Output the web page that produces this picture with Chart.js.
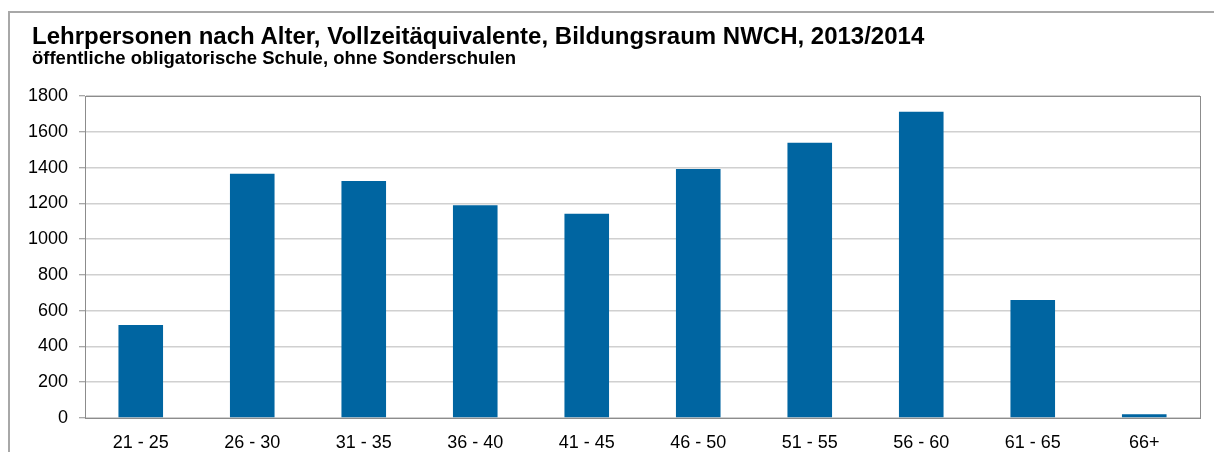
<!DOCTYPE html>
<html>
<head>
<meta charset="utf-8">
<script src="https://cdn.jsdelivr.net/npm/chart.js@4/dist/chart.umd.min.js"></script>
<style>
  html, body { margin: 0; padding: 0; width: 1214px; height: 452px; overflow: hidden; background: #fff; }
  #frame { position: absolute; left: 8px; top: 11px; width: 1300px; height: 500px; border: 2px solid #a8a8a8; box-sizing: border-box; }
  #wrap { position: absolute; left: 0; top: 0; width: 1214px; height: 452px; }
  .t { position: absolute; left: 32px; white-space: nowrap; font-family: 'Liberation Sans', Arial, Helvetica, sans-serif; font-weight: bold; color: #000; }
  #title { top: 24px; font-size: 24px; line-height: 24px; }
  #subtitle { top: 49px; font-size: 18.5px; line-height: 18.5px; }
</style>
</head>
<body>
<div id="frame"></div>
<div id="wrap"><canvas id="c" width="1214" height="452"></canvas></div>
<div class="t" id="title"></div>
<div class="t" id="subtitle"></div>
<script>
const titleText = 'Lehrpersonen nach Alter, Vollzeitäquivalente, Bildungsraum NWCH, 2013/2014';
const subtitleText = 'öffentliche obligatorische Schule, ohne Sonderschulen';
const categories = ['21 - 25', '26 - 30', '31 - 35', '36 - 40', '41 - 45', '46 - 50', '51 - 55', '56 - 60', '61 - 65', '66+'];
const teachers = [520, 1366, 1325, 1189, 1142, 1392, 1539, 1712, 660, 21];
const yMin = 0, yMax = 1800, yStep = 200;

document.getElementById('title').textContent = titleText;
document.getElementById('subtitle').textContent = subtitleText;

const FONT = "'Liberation Sans', Arial, Helvetica, sans-serif";

const plotBorder = {
  id: 'plotBorder',
  afterDraw(chart) {
    const a = chart.chartArea, ctx = chart.ctx;
    ctx.save();
    ctx.strokeStyle = '#8c8c8c';
    ctx.lineWidth = 1;
    ctx.strokeRect(Math.round(a.left) + 0.5, Math.round(a.top) + 0.5, Math.round(a.right - a.left), Math.round(a.bottom - a.top));
    ctx.restore();
  }
};

new Chart(document.getElementById('c'), {
  type: 'bar',
  data: {
    labels: categories,
    datasets: [{
      data: teachers,
      backgroundColor: '#0065a1',
      borderWidth: 0,
      barPercentage: 0.4,
      categoryPercentage: 1.0
    }]
  },
  options: {
    responsive: false,
    animation: false,
    events: [],
    layout: { padding: { left: 0, right: 14, top: 96, bottom: 0 } },
    plugins: {
      legend: { display: false },
      tooltip: { enabled: false },
      title: { display: false },
      subtitle: { display: false }
    },
    scales: {
      x: {
        grid: { display: false, drawTicks: false },
        border: { display: true, color: '#8c8c8c', width: 1 },
        ticks: { color: '#000', font: { family: FONT, size: 18 }, padding: 14, maxRotation: 0, autoSkip: false },
        afterFit(axis) { axis.height = 34; }
      },
      y: {
        min: yMin,
        max: yMax,
        grid: { color: '#d0d0d0', lineWidth: 1.5, tickLength: 6, tickColor: '#8c8c8c', tickWidth: 1 },
        border: { display: true, color: '#8c8c8c', width: 1 },
        ticks: { stepSize: yStep, color: '#000', font: { family: FONT, size: 18 }, padding: 11,
                 callback: (v) => String(v) },
        afterFit(axis) { axis.width = 85; }
      }
    }
  },
  plugins: [plotBorder]
});
</script>
</body>
</html>
